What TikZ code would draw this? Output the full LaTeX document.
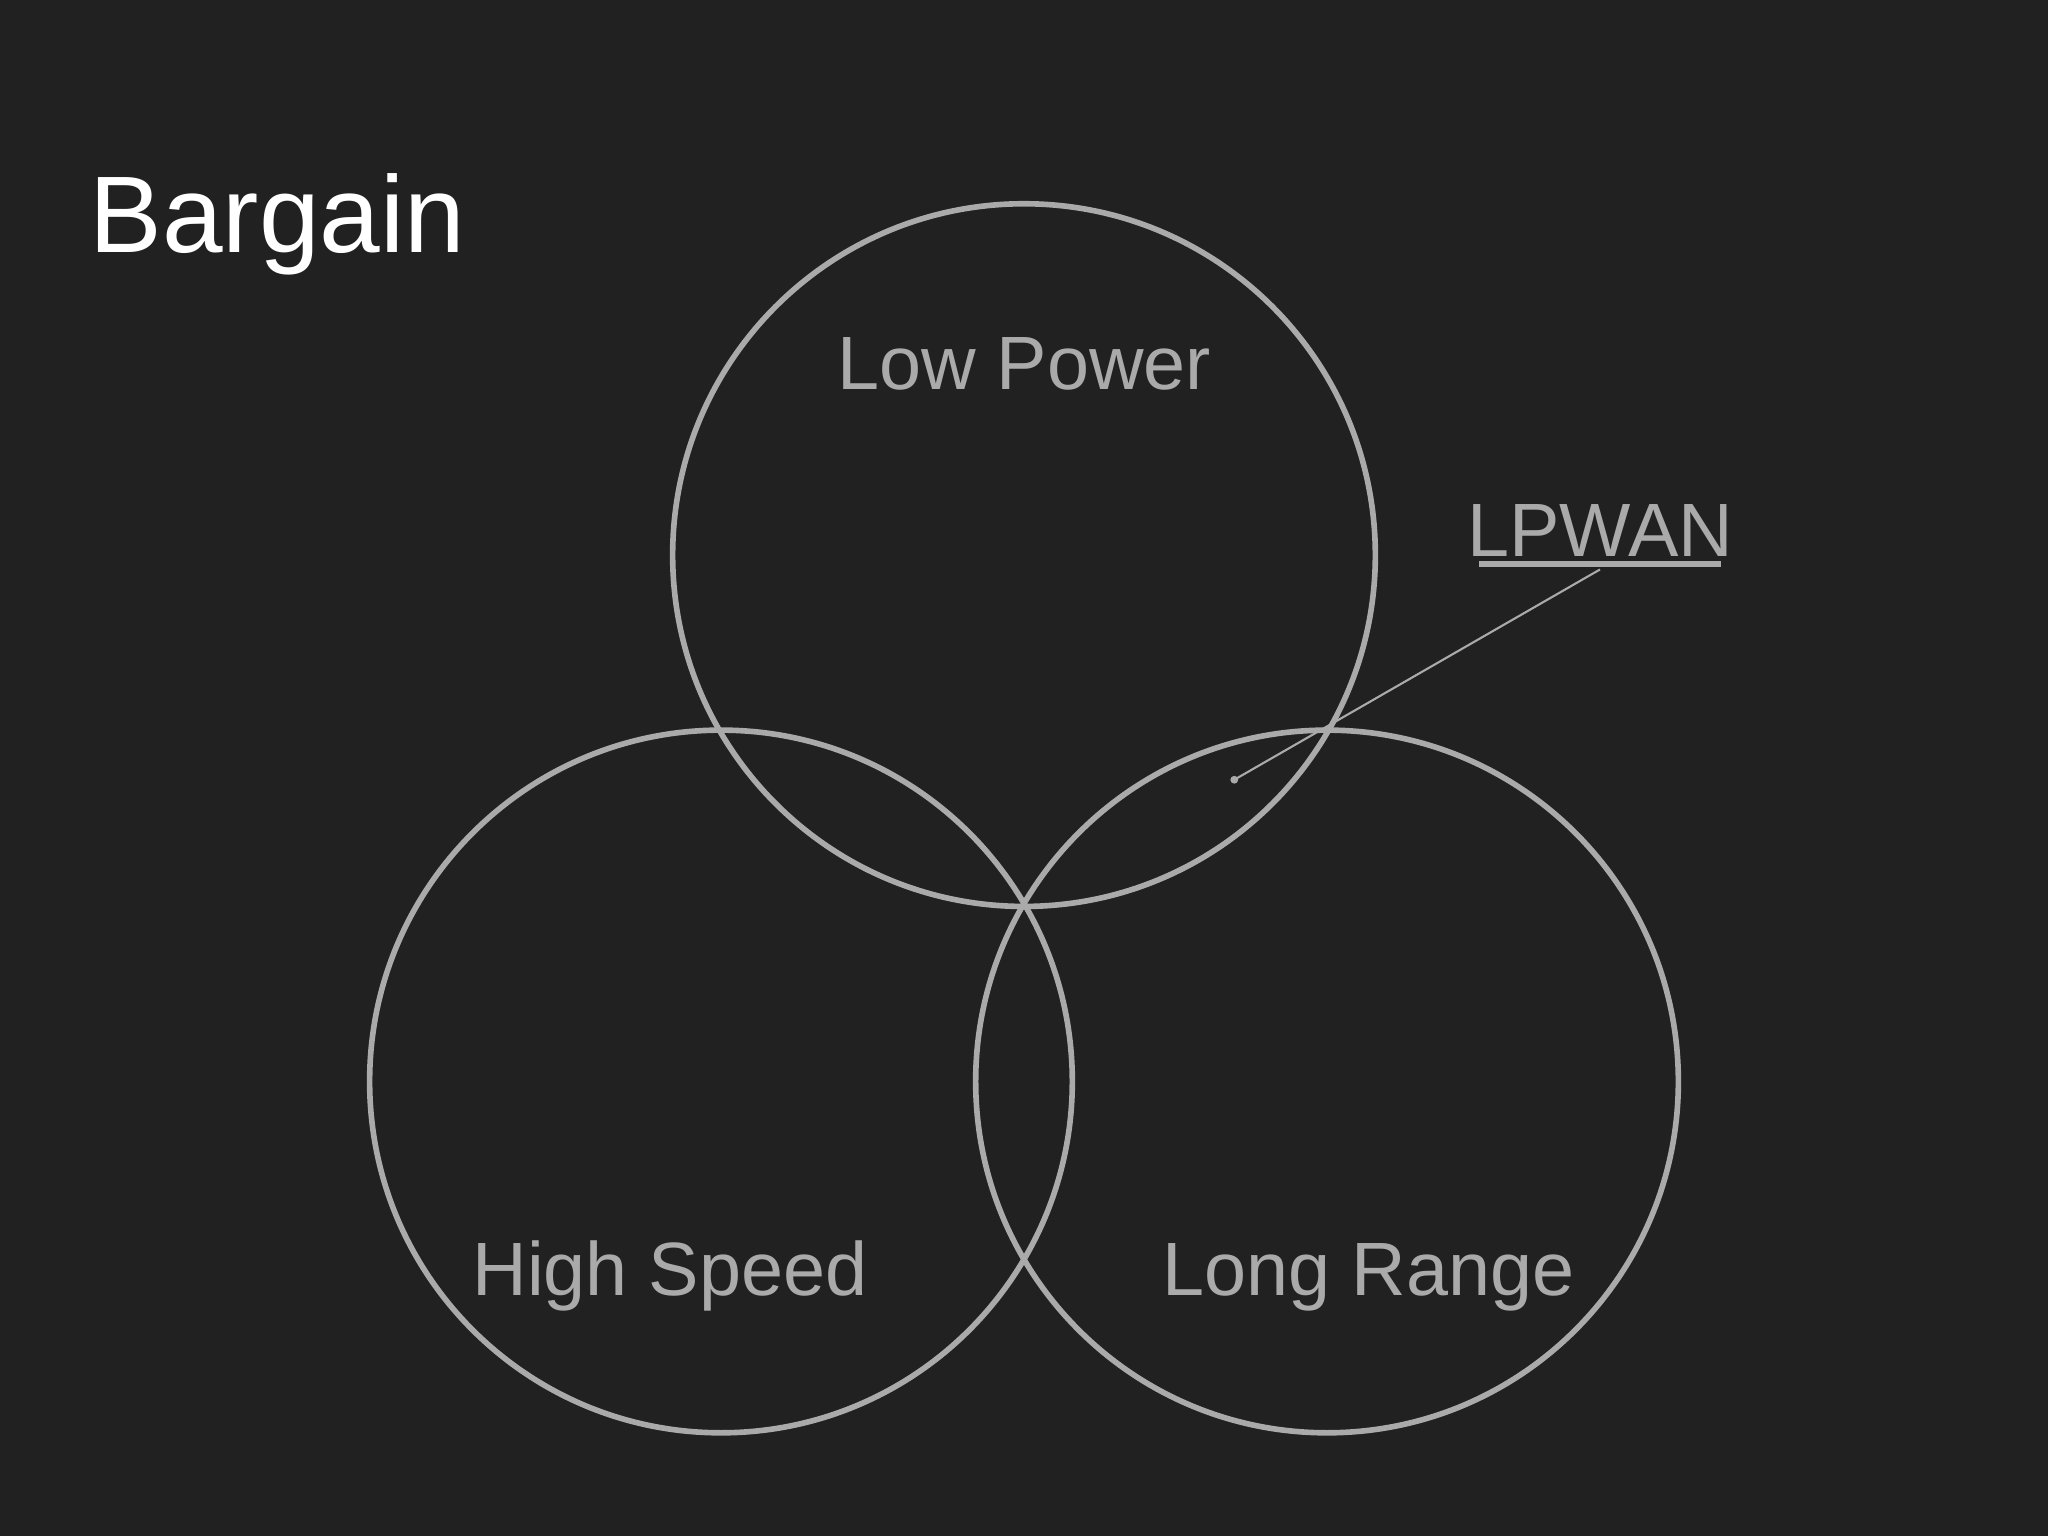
\documentclass[tikz,border=0pt]{standalone}
\usepackage{fontspec}
\setmainfont{Liberation Sans}
\definecolor{bg}{HTML}{212121}
\definecolor{fg}{HTML}{AAAAAA}
\begin{document}
\begin{tikzpicture}[x=0.01306cm,y=-0.01306cm,
  ring/.style={draw=fg,line width=1.6pt},
  lbl/.style={text=fg,font=\fontsize{21.5}{24}\selectfont,inner sep=0pt,anchor=base}]
\fill[bg] (0,0) rectangle (1568,1176);
\useasboundingbox (0,0) rectangle (1568,1176);
\node[text=white,font=\fontsize{31}{36}\selectfont,inner sep=0pt,anchor=base west] (title) at (68,193) {Bargain};
\draw[ring] (784,425) circle (269);
\draw[ring] (552,828) circle (269);
\draw[ring] (1016,828) circle (269);
\node[lbl] (lp) at (784,298) {Low Power};
\node[lbl] (hs) at (513,992) {High Speed};
\node[lbl] (lr) at (1048,992) {Long Range};
\node[lbl] (lpwan) at (1225,426) {LPWAN};
\draw[fg,line width=1.6pt] (1132,432) -- (1318,432);
\coordinate (tip) at (1225,436);
\coordinate (dot) at (945,597);
\draw[fg,line width=0.6pt] (tip) -- (dot);
\fill[fg] (dot) circle (3);
\end{tikzpicture}
\end{document}
